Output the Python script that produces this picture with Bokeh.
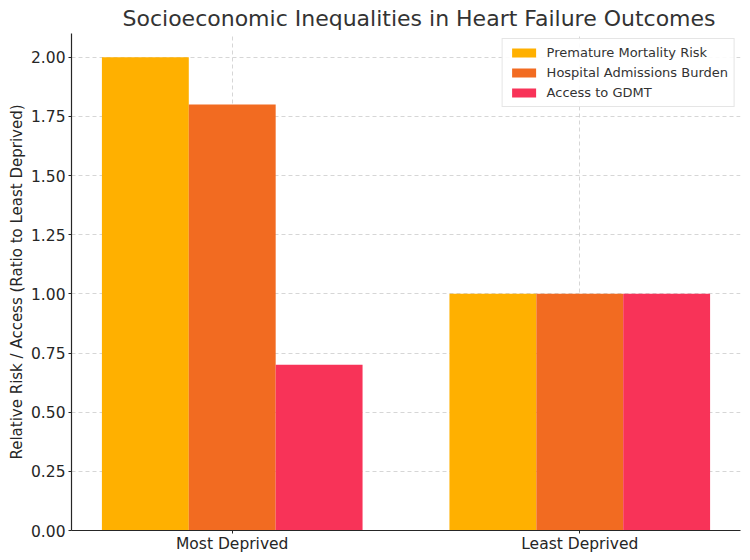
from bokeh.plotting import figure
from bokeh.models import (ColumnDataSource, Range1d, FixedTicker, Legend, LegendItem)
from bokeh.transform import dodge
from bokeh.embed import file_html
from bokeh.resources import INLINE

# Data
groups = ["Most Deprived", "Least Deprived"]
series = ["Premature Mortality Risk", "Hospital Admissions Burden", "Access to GDMT"]
premature_mortality = [2.0, 1.0]
hospital_admissions = [1.8, 1.0]
gdmt_access = [0.7, 1.0]
colors = ["#FFB000", "#F26B21", "#F83358"]
y_ticks = [0.0, 0.25, 0.5, 0.75, 1.0, 1.25, 1.5, 1.75, 2.0]

xpos = list(range(len(groups)))
source = ColumnDataSource(dict(
    x=xpos,
    s0=premature_mortality,
    s1=hospital_admissions,
    s2=gdmt_access,
))

bar_w = 0.25
FONT = "DejaVu Sans"

p = figure(
    width=750, height=560,
    x_range=Range1d(-0.4625, 1.4625),
    y_range=Range1d(0, 2.1),
    output_backend="svg", toolbar_location=None,
    min_border_left=71, min_border_right=10,
    min_border_top=33, min_border_bottom=30,
    title="Socioeconomic Inequalities in Heart Failure Outcomes",
)

p.title.align = "left"
p.title.offset = 51
p.title.text_font = FONT
p.title.text_font_size = "22px"
p.title.text_font_style = "normal"
p.title.text_color = "#333333"
p.title.standoff = 6

renderers = []
for i, key in enumerate(["s0", "s1", "s2"]):
    r = p.vbar(x=dodge("x", (i - 1) * bar_w, range=p.x_range), top=key,
               width=bar_w, source=source, fill_color=colors[i],
               line_color=None)
    renderers.append(r)

# Axes
p.xaxis.ticker = FixedTicker(ticks=xpos)
p.xaxis.major_label_overrides = {i: g for i, g in enumerate(groups)}
p.yaxis.ticker = FixedTicker(ticks=y_ticks)
p.yaxis.major_label_overrides = {t: f"{t:.2f}" for t in y_ticks}
p.yaxis.axis_label = "Relative Risk / Access (Ratio to Least Deprived)"

for ax in (p.xaxis, p.yaxis):
    ax.major_label_text_font = FONT
    ax.major_label_text_font_size = "15.5px"
    ax.major_label_text_color = "#262626"
    ax.axis_label_text_font = FONT
    ax.axis_label_text_font_size = "15px"
    ax.axis_label_text_font_style = "normal"
    ax.axis_label_text_color = "#262626"
    ax.axis_line_color = "#262626"
    ax.axis_line_width = 1.2
    ax.major_tick_in = 0
    ax.major_tick_out = 3
    ax.major_tick_line_color = "#262626"
    ax.minor_tick_line_color = None
p.xaxis.major_label_standoff = 1
p.yaxis.major_label_standoff = 3
p.yaxis.axis_label_standoff = 2

# Grid
for g in (p.xgrid, p.ygrid):
    g.grid_line_color = "#cccccc"
    g.grid_line_dash = "4 3"
    g.grid_line_width = 0.8
p.xgrid.ticker = FixedTicker(ticks=xpos)
p.ygrid.ticker = FixedTicker(ticks=y_ticks)

p.outline_line_color = None
p.background_fill_color = "white"
p.border_fill_color = "white"

legend = Legend(
    items=[LegendItem(label=s, renderers=[r]) for s, r in zip(series, renderers)],
    location="top_right",
    label_text_font=FONT,
    label_text_font_size="13px",
    label_text_color="#333333",
    glyph_width=30, glyph_height=11,
    label_height=14,
    label_standoff=8,
    spacing=5,
    padding=6,
    margin=5,
    border_line_color="#cccccc",
    border_line_width=1,
    background_fill_alpha=0.9,
)
p.add_layout(legend)

open("out.html", "w").write(file_html(p, INLINE))
